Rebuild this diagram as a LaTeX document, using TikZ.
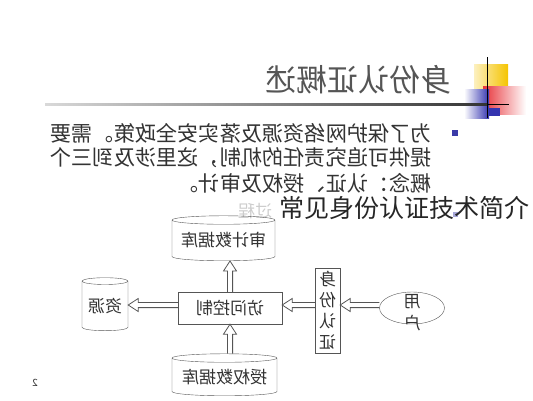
\documentclass[tikz,border=0pt]{standalone}
\usepackage{fontspec}
\usepackage{graphicx}
\setmainfont{Noto Sans CJK SC}
\usetikzlibrary{positioning,calc,shapes.geometric}

\definecolor{ink}{HTML}{333333}
\definecolor{edge}{HTML}{555555}
\definecolor{bulletblue}{HTML}{3B3BA8}
\definecolor{decoyellow}{HTML}{F5C400}
\definecolor{decored}{HTML}{E8343A}
\definecolor{decoblue}{HTML}{3434B0}

\newcommand{\mirror}[1]{\reflectbox{#1}}
% open block arrow from #1 to #2
\newcommand{\hollowarrow}[2]{%
  \coordinate (ha) at (#1);
  \coordinate (hb) at (#2);
  \coordinate (hh) at ($(hb)!10pt!(ha)$);
  \draw[hollow] ($(ha)!2.6pt!90:(hb)$) -- ($(hh)!2.6pt!90:(hb)$) -- ($(hh)!6.5pt!90:(hb)$)
    -- (hb) -- ($(hh)!6.5pt!-90:(hb)$) -- ($(hh)!2.6pt!-90:(hb)$) -- ($(ha)!2.6pt!-90:(hb)$);
}

\tikzset{
  mirrored/.style={xscale=-1},
  titletext/.style={mirrored, text=edge, inner sep=0, font=\fontsize{31}{31}\selectfont},
  bodytext/.style={mirrored, text=ink, inner sep=0, anchor=west, font=\fontsize{21.2}{21.2}\selectfont},
  captiontext/.style={text=black!85, inner sep=0, font=\fontsize{25}{25}\selectfont},
  db/.style={cylinder, shape border rotate=90, draw=edge, text=ink, inner sep=0, font=\fontsize{17}{17}\selectfont},
  box/.style={rectangle, draw=edge, text=ink, inner sep=0, font=\fontsize{17}{17}\selectfont},
  hollow/.style={draw=edge, line width=0.8pt, line join=miter},
}

\begin{document}
\begin{tikzpicture}[x=1pt, y=-1pt]
  \useasboundingbox (0,0) rectangle (533,400);

  % Title and decoration
  \node[titletext] (title) at (358,80) {身份认证概述};
  \shade[left color=decoyellow!25, right color=decoyellow] (474,64) rectangle (508,92);
  \shade[left color=decored, right color=white] (483,86) rectangle (526,114);
  \shade[left color=white, right color=decoblue] (464,89) rectangle (489,118);
  \fill[decoblue] (489,108) rectangle (500,116);
  \shade[left color=gray!30, right color=black!80] (45,103.5) rectangle (488,105.5);
  \draw[black, line width=1pt] (487.5,57) -- (487.5,118);
  \draw[black, line width=1pt] (487,104.5) -- (509,104.5);

  % Bullet text
  \fill[bulletblue] (452,130) rectangle (458,136);
  \node[bodytext] (line1) at (432,133) {为了保护网络资源及落实安全政策。需要};
  \node[bodytext] (line2) at (432,158) {提供可追究责任的机制，这里涉及到三个};
  \node[bodytext] (line3) at (432,183) {概念：认证、授权及审计。};
  \fill[bulletblue!45] (453,212) rectangle (458,217);
  \node[mirrored, text=gray!40, inner sep=0, font=\fontsize{17}{17}\selectfont] (faded) at (255,211) {过程};
  \node[captiontext] (caption) at (404,208) {常见身份认证技术简介};

  % Diagram
  \node[db, minimum width=103, minimum height=45, aspect=0.1] (audit) at (223.5,240.5) {\mirror{审计数据库}};
  \node[box, minimum width=104, minimum height=32] (access) at (230,308) {\mirror{访问控制}};
  \node[db, minimum width=46, minimum height=53, aspect=0.2] (res) at (105,306) {\mirror{资源}};
  \node[box, minimum width=25, minimum height=85, align=center, font=\fontsize{17}{21}\selectfont] (auth) at (327.5,310.5) {\mirror{身}\\\mirror{份}\\\mirror{认}\\\mirror{证}};
  \node[ellipse, draw=edge, minimum width=65, minimum height=32, inner sep=0] (user) at (412,308) {};
  \node[text=ink, inner sep=0, align=center, font=\fontsize{17}{22}\selectfont] (usertext) at (412,313) {\mirror{用}\\\mirror{户}};
  \node[db, minimum width=105, minimum height=42, aspect=0.1] (authz) at (224.5,377) {\mirror{授权数据库}};

  \coordinate (row) at (0,305);
  \hollowarrow{user.west |- row}{auth.east |- row}
  \hollowarrow{auth.west |- row}{access.east |- row}
  \hollowarrow{access.west |- row}{res.east |- row}
  \hollowarrow{access.north}{access.north |- audit.south}
  \hollowarrow{access.south |- authz.north}{access.south}

  \node[text=ink, inner sep=0, font=\fontsize{10}{10}\selectfont] (pagenum) at (35,383) {\mirror{2}};
\end{tikzpicture}
\end{document}
